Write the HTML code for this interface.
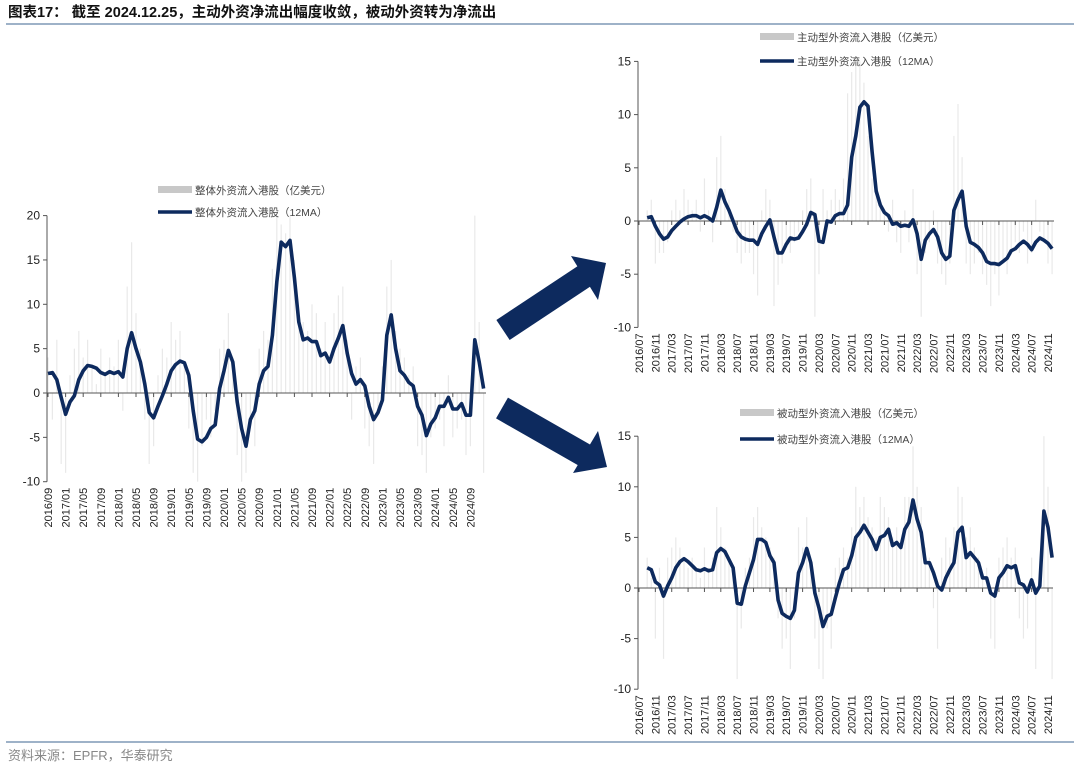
<!DOCTYPE html>
<html><head><meta charset="utf-8">
<style>
html,body{margin:0;padding:0;background:#fff;}
svg{display:block;font-family:"Liberation Sans","Noto Sans CJK SC",sans-serif;}
</style></head>
<body>
<svg id="root" width="1080" height="771" viewBox="0 0 1080 771" xmlns="http://www.w3.org/2000/svg">
  <text x="8" y="17" font-size="14.5" font-weight="bold" fill="#111">图表17：  截至 2024.12.25，主动外资净流出幅度收敛，被动外资转为净流出</text>
  <line x1="6" y1="24" x2="1074" y2="24" stroke="#7f99b5" stroke-width="1.5"/>
  <line x1="6" y1="742" x2="1074" y2="742" stroke="#7f99b5" stroke-width="1.5"/>
  <text x="8" y="760" font-size="13" fill="#888">资料来源：EPFR，华泰研究</text>
  <g>
    <line x1="503" y1="330" x2="586" y2="275" stroke="#0d2a5e" stroke-width="24"/>
    <polygon points="571,256 606,263 598,300" fill="#0d2a5e"/>
  </g>
  <g>
    <line x1="502" y1="408" x2="586" y2="456" stroke="#0d2a5e" stroke-width="24"/>
    <polygon points="598,431 607,467 573,473" fill="#0d2a5e"/>
  </g>
  <g id="chart-total"></g>
  <g id="chart-active"></g>
  <g id="chart-passive"></g>
</svg>
<script>
// ---- data (monthly, 2016/09 .. 2024/12) ----
const totalMA = [2.2,2.3,1.5,-0.5,
 -2.4,-1.0,-0.3,1.5,2.5,3.1,3.0,2.8,2.3,2.1,2.4,2.2,
 2.4,1.8,5.0,6.8,5.0,3.5,1.0,-2.2,-2.8,-1.5,-0.3,1.0,
 2.5,3.2,3.6,3.4,2.0,-2.0,-5.2,-5.5,-5.0,-4.0,-3.6,0.5,
 2.5,4.8,3.5,-1.0,-4.0,-6.0,-3.0,-2.0,1.0,2.5,3.0,6.5,
 12.5,17.0,16.5,17.2,13.0,8.0,6.0,6.2,5.8,5.8,4.2,4.5,
 3.5,5.0,6.2,7.6,4.5,2.2,1.0,1.5,0.8,-1.5,-3.0,-2.2,
 -0.8,6.5,8.8,5.0,2.5,2.0,1.2,0.8,-1.5,-2.5,-4.8,-3.5,
 -2.8,-1.5,-1.5,-0.5,-1.8,-1.8,-1.2,-2.5,-2.5,6.0,3.5,0.5];
const totalRaw = [4,-3,6,-8,-9,2,5,7,4,6,3,1,5,2,4,3,6,-2,12,17,9,5,-3,-8,-6,2,5,4,8,6,7,3,-4,-9,-10,-6,-3,-5,-2,5,6,9,4,-7,-10,-9,-4,-6,5,7,6,14,20,19,18,20,15,9,8,7,10,9,5,8,4,9,11,12,6,-3,3,4,-4,-6,-8,-2,3,12,15,7,5,4,2,3,-6,-7,-9,-5,-4,-3,-6,2,-5,-4,-3,-7,-6,20,8,-9];
const activeMA = [0.3,0.4,-0.5,-1.2,
 -1.7,-1.5,-0.9,-0.5,-0.1,0.2,0.4,0.5,0.5,0.3,0.5,0.3,
 0.0,1.3,2.9,1.8,1.0,0.0,-1.0,-1.5,-1.7,-1.8,-1.8,-2.2,
 -1.2,-0.5,0.1,-1.5,-3.0,-3.0,-2.2,-1.6,-1.7,-1.6,-1.0,-0.3,
 0.8,0.6,-1.9,-2.0,0.0,-0.1,0.5,0.7,0.7,1.5,6.0,8.0,
 10.7,11.2,10.8,6.5,2.8,1.5,0.8,0.5,-0.3,-0.2,-0.5,-0.4,
 -0.5,0.1,-1.2,-3.6,-1.8,-1.2,-0.8,-1.5,-3.0,-3.6,-3.3,1.0,
 2.0,2.8,-0.5,-2.0,-2.2,-2.5,-3.0,-3.8,-4.0,-4.0,-4.1,-3.8,
 -3.5,-2.8,-2.6,-2.2,-1.9,-2.2,-2.7,-2.0,-1.6,-1.8,-2.1,-2.6];
const activeRaw = [1,2,-4,-3,-3,-2,1,2,1,3,2,1,2,-1,4,1,-2,6,8,3,2,-1,-3,-4,-3,-3,-5,-7,1,3,2,-8,-6,-4,-2,-3,-2,-1,1,3,4,-9,-5,3,1,2,3,2,4,12,14,15,15,13,8,4,3,2,1,-1,2,-2,-3,1,-2,3,-5,-9,-3,-2,1,-4,-5,-6,-4,8,11,6,-4,-5,-4,-3,-5,-6,-8,-5,-7,-4,-5,-3,-2,-3,-1,-4,-3,2,-1,-2,-4,-5];
const passiveMA = [2.0,1.8,0.6,0.3,
 -0.8,0.2,1.0,2.0,2.6,2.9,2.6,2.2,1.8,1.7,1.9,1.7,
 1.8,3.5,3.9,3.6,2.8,2.0,-1.5,-1.6,0.2,1.5,2.8,4.8,
 4.8,4.5,3.2,2.5,-1.2,-2.5,-2.8,-3.0,-2.2,1.5,2.5,3.9,
 2.5,-0.5,-2.0,-3.8,-2.8,-2.6,-1.0,0.5,1.8,2.0,3.2,5.0,
 5.5,6.2,5.5,4.8,3.8,5.0,5.2,5.8,4.2,4.5,4.0,5.8,
 6.5,8.7,6.8,5.5,2.5,2.5,1.5,0.2,-0.2,1.0,1.8,2.5,
 5.5,6.0,3.0,3.5,3.0,2.5,1.0,1.0,-0.5,-0.8,1.0,1.5,
 2.2,2.0,2.2,0.5,0.3,-0.4,0.8,-0.5,0.2,7.6,6.0,3.0];
const passiveRaw = [3,1,-5,2,-7,3,4,5,4,3,2,3,2,1,4,2,3,8,6,4,3,2,-9,-4,2,3,7,8,6,5,4,3,-3,-6,-5,-8,-3,6,4,7,3,-5,-8,-9,-4,-6,2,3,4,3,6,10,8,9,7,6,5,9,8,7,5,6,4,9,9,14,10,8,4,3,-2,-6,3,5,4,6,10,9,5,6,4,3,1,2,-5,-6,3,4,5,3,4,-3,-5,-4,3,-8,2,15,10,-9];
const totalTicks = ["2016/09","2017/01","2017/05","2017/09","2018/01","2018/05","2018/09","2019/01","2019/05","2019/09","2020/01","2020/05","2020/09","2021/01","2021/05","2021/09","2022/01","2022/05","2022/09","2023/01","2023/05","2023/09","2024/01","2024/05","2024/09"];
const rightTicks = ["2016/07","2016/11","2017/03","2017/07","2017/11","2018/03","2018/07","2018/11","2019/03","2019/07","2019/11","2020/03","2020/07","2020/11","2021/03","2021/07","2021/11","2022/03","2022/07","2022/11","2023/03","2023/07","2023/11","2024/03","2024/07","2024/11"];
const totalYTicks = [20,15,10,5,0,-5,-10];
const rightYTicks = [15,10,5,0,-5,-10];

const NS = "http://www.w3.org/2000/svg";
function mk(tag, attrs, parent){const e=document.createElementNS(NS,tag);for(const k in attrs)e.setAttribute(k,attrs[k]);parent.appendChild(e);return e;}

function draw(g, c){
  const xS = i => c.x0 + (i + c.off) * c.dx;
  const yS = v => c.zeroY - v * c.py;
  c.raw.forEach((v,i)=>{
    const b = mk('rect',{x:xS(i)-0.6,y:Math.min(yS(v),c.zeroY),width:1.2,height:Math.abs(yS(v)-c.zeroY),fill:'#e9e9e9'},g);
    
    
  });
  const ya = mk('line',{x1:c.axX,y1:yS(c.yt[0]),x2:c.axX,y2:yS(c.yt[c.yt.length-1]),stroke:'#555','stroke-width':1},g);
  
  
  c.yt.forEach(t=>{
    mk('line',{x1:c.axX-4,y1:yS(t),x2:c.axX,y2:yS(t),stroke:'#555'},g);
    const tx = mk('text',{x:c.axX-7,y:yS(t)+4,'font-size':12,'text-anchor':'end',fill:'#222'},g);
    tx.textContent = t;
    
    
  });
  const xa = mk('line',{x1:c.axX,y1:c.zeroY,x2:c.axR,y2:c.zeroY,stroke:'#555','stroke-width':1},g);
  
  
  const labY = yS(c.yt[c.yt.length-1]) + 6;
  c.xt.forEach((t,k)=>{
    const x = c.x0 + k*4*c.dx;
    mk('line',{x1:x,y1:c.zeroY,x2:x,y2:c.zeroY+4,stroke:'#555'},g);
    const tx = mk('text',{x:x+4,y:labY,'font-size':11,'text-anchor':'end',fill:'#222',transform:`rotate(-90 ${x+4} ${labY})`},g);
    tx.textContent = t;
    
    
  });
  const d = c.ma.map((v,i)=>(i?'L':'M')+xS(i).toFixed(1)+' '+yS(v).toFixed(1)).join(' ');
  const p = mk('path',{d:d,fill:'none',stroke:'#0d2a5e','stroke-width':3.6,'stroke-linejoin':'round'},g);
  
  
  const l1 = mk('rect',{x:c.lx,y:c.ly-4,width:34,height:7,fill:'#c8c8c8'},g);
  
  
  const t1 = mk('text',{x:c.lx+37,y:c.ly+4,'font-size':10.5,fill:'#444'},g);
  t1.textContent = c.n1;
  
  
  const l2 = mk('line',{x1:c.lx,y1:c.ly+c.lg,x2:c.lx+34,y2:c.ly+c.lg,stroke:'#0d2a5e','stroke-width':3.6},g);
  
  
  const t2 = mk('text',{x:c.lx+37,y:c.ly+c.lg+4,'font-size':10.5,fill:'#444'},g);
  t2.textContent = c.n2;
  
  
}

draw(document.getElementById('chart-total'),{raw:totalRaw,ma:totalMA,xt:totalTicks,yt:totalYTicks,
  x0:48,off:0,dx:4.4,zeroY:393,py:8.87,axX:47,axR:486,lx:158,ly:190,lg:22,
  n1:'整体外资流入港股（亿美元）',n2:'整体外资流入港股（12MA）'});
draw(document.getElementById('chart-active'),{raw:activeRaw,ma:activeMA,xt:rightTicks,yt:rightYTicks,
  x0:639,off:2,dx:4.09,zeroY:221,py:10.64,axX:638,axR:1054,lx:760,ly:37,lg:24,
  n1:'主动型外资流入港股（亿美元）',n2:'主动型外资流入港股（12MA）'});
draw(document.getElementById('chart-passive'),{raw:passiveRaw,ma:passiveMA,xt:rightTicks,yt:rightYTicks,
  x0:639,off:2,dx:4.09,zeroY:588,py:10.12,axX:638,axR:1053,lx:740,ly:413,lg:26,
  n1:'被动型外资流入港股（亿美元）',n2:'被动型外资流入港股（12MA）'});
</script>
</body></html>
